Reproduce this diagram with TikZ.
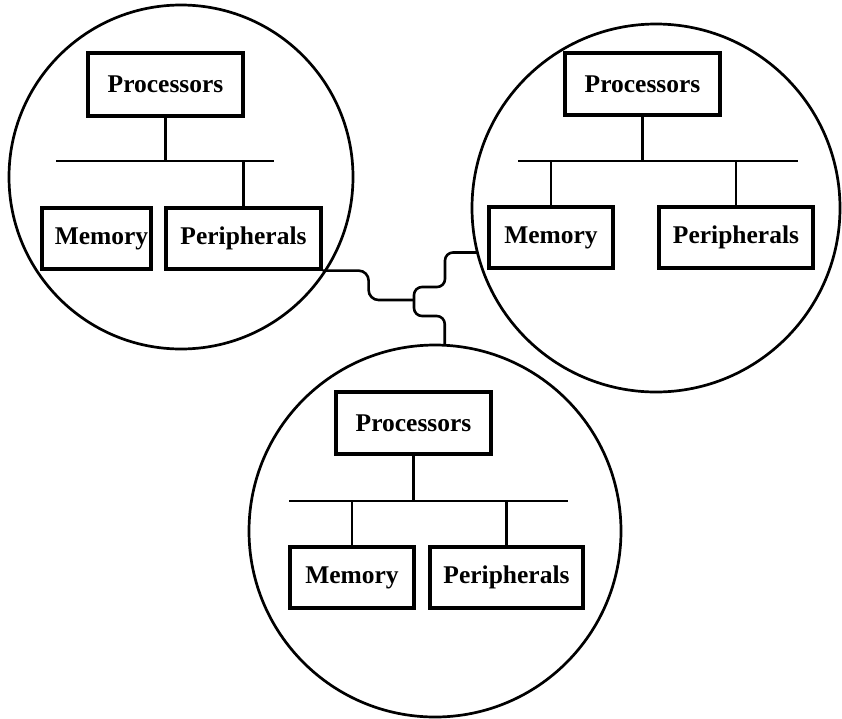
\documentclass[tikz,border=0pt]{standalone}
\usepackage{fontspec}
\setmainfont{Liberation Serif}
\usetikzlibrary{calc}
\begin{document}
\begin{tikzpicture}[x=1pt,y=-1pt,
  box/.style={draw, line width=3.2pt, inner sep=0pt, font=\bfseries\fontsize{25.5}{30}\selectfont},
  ring/.style={draw, circle, line width=2.7pt, inner sep=0pt, outer sep=0pt},
  bus/.style={line width=2.6pt},
  wire/.style={line width=2.6pt}]
\useasboundingbox (0,0) rectangle (842,718);
% circles
\node[ring, minimum size=344pt] (C1) at (181,177) {};
\node[ring, minimum size=368pt] (C2) at (656,208) {};
\node[ring, minimum size=372pt] (C3) at (435,531) {};
% left group
\node[box, minimum width=155pt, minimum height=63pt] (P1) at (165.5,84.5) {Processors};
\node[box, minimum width=109pt, minimum height=61pt] (M1) at (96.5,238.5) {\hspace*{10pt}Memory};
\node[box, minimum width=155pt, minimum height=61pt] (Q1) at (243.5,238.5) {Peripherals};
\coordinate (B1l) at (56,161);
\coordinate (B1r) at (274,161);
\draw[bus] (B1l) -- (B1r);
\draw[bus] (P1.south) -- (P1.south |- B1l);
\draw[bus] ($(M1.north)+(7.5,0)$) -- ($(M1.north)+(7.5,0)$ |- B1l);
\draw[bus] (Q1.north) -- (Q1.north |- B1l);
% right group
\node[box, minimum width=155pt, minimum height=62pt] (P2) at (642.5,84) {Processors};
\node[box, minimum width=124pt, minimum height=61pt] (M2) at (551,237.5) {Memory};
\node[box, minimum width=154pt, minimum height=61pt] (Q2) at (736,237.5) {Peripherals};
\coordinate (B2l) at (518,161);
\coordinate (B2r) at (798,161);
\draw[bus] (B2l) -- (B2r);
\draw[bus] (P2.south) -- (P2.south |- B2l);
\draw[bus] (M2.north) -- (M2.north |- B2l);
\draw[bus] (Q2.north) -- (Q2.north |- B2l);
% bottom group
\node[box, minimum width=155pt, minimum height=62pt] (P3) at (413.5,423) {Processors};
\node[box, minimum width=124pt, minimum height=61pt] (M3) at (352,577.5) {Memory};
\node[box, minimum width=153pt, minimum height=61pt] (Q3) at (506.5,577.5) {Peripherals};
\coordinate (B3l) at (289,501);
\coordinate (B3r) at (568,501);
\draw[bus] (B3l) -- (B3r);
\draw[bus] (P3.south) -- (P3.south |- B3l);
\draw[bus] (M3.north) -- (M3.north |- B3l);
\draw[bus] (Q3.north) -- (Q3.north |- B3l);
% interconnect
\coordinate (J) at (414,300);
\coordinate (K1) at (445,287);
\coordinate (K2) at (414,316);
\draw[wire, rounded corners=10pt] (Q1.south east) -- ++(46,0) |- (J);
\draw[wire, rounded corners=8pt] (C2.194) -| (K1) -| (K2) -| (C3.87);
\end{tikzpicture}
\end{document}
